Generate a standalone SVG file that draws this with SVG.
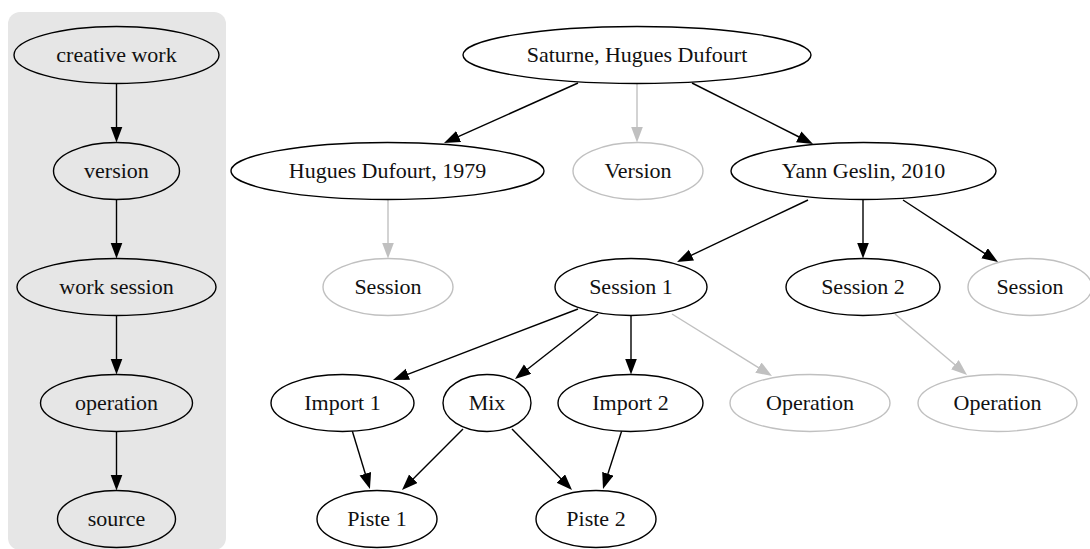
<svg xmlns="http://www.w3.org/2000/svg" width="1090" height="549" viewBox="0 0 1090 549">
  <style>
    .node ellipse { fill: #ffffff; stroke: #000000; stroke-width: 1.4; }
    .node.ghost ellipse { stroke: #c0c0c0; }
    .legend .node ellipse { fill: none; }
    text { font-family: "Liberation Serif", "Times New Roman", serif; font-size: 22px; fill: #111111; text-anchor: middle; }
    .edge { stroke: #000000; stroke-width: 1.4; fill: none; marker-end: url(#arrow); }
    .edge.ghost { stroke: #c0c0c0; marker-end: url(#arrow-gray); }
  </style>
  <defs>
    <marker id="arrow" markerUnits="userSpaceOnUse" markerWidth="17" markerHeight="13" refX="1" refY="6" orient="auto">
      <path d="M0,0 L16,6 L0,12 z" fill="#000000"/>
    </marker>
    <marker id="arrow-gray" markerUnits="userSpaceOnUse" markerWidth="17" markerHeight="13" refX="1" refY="6" orient="auto">
      <path d="M0,0 L16,6 L0,12 z" fill="#c0c0c0"/>
    </marker>
  </defs>

  <rect width="1090" height="549" fill="#ffffff"/>

  <g transform="translate(0,2)">
  <!-- legend cluster -->
  <g id="legend" class="legend">
    <rect x="8" y="10" width="218" height="538" rx="12" ry="12" fill="#e6e6e6"/>
    <g id="connectors-legend">
      <line class="edge" x1="116.5" y1="81.5" x2="116.5" y2="125.5"/>
      <line class="edge" x1="116.5" y1="197.5" x2="116.5" y2="241.5"/>
      <line class="edge" x1="116.5" y1="313.5" x2="116.5" y2="357.5"/>
      <line class="edge" x1="116.5" y1="429.5" x2="116.5" y2="473.5"/>
    </g>
    <g id="lg-creative-work" class="node"><ellipse cx="116.5" cy="53" rx="102.5" ry="28.5"/><text x="116.5" y="60">creative work</text></g>
    <g id="lg-version" class="node"><ellipse cx="116.5" cy="169" rx="63" ry="28.5"/><text x="116.5" y="176">version</text></g>
    <g id="lg-work-session" class="node"><ellipse cx="116.5" cy="285" rx="99.5" ry="28.5"/><text x="116.5" y="292">work session</text></g>
    <g id="lg-operation" class="node"><ellipse cx="116.5" cy="401" rx="76" ry="28.5"/><text x="116.5" y="408">operation</text></g>
    <g id="lg-source" class="node"><ellipse cx="116.5" cy="517" rx="59" ry="28.5"/><text x="116.5" y="524">source</text></g>
  </g>

  <!-- connectors -->
  <g id="connectors">
    <line class="edge" x1="578" y1="81" x2="457.7" y2="134.9"/>
    <line class="edge ghost" x1="637" y1="81" x2="637" y2="125.5"/>
    <line class="edge" x1="692" y1="81" x2="799.6" y2="135.25"/>
    <line class="edge ghost" x1="388" y1="197.5" x2="388" y2="241.5"/>
    <line class="edge" x1="808" y1="198" x2="690.6" y2="253.6"/>
    <line class="edge" x1="863" y1="197.5" x2="863" y2="241.5"/>
    <line class="edge" x1="903" y1="198" x2="985.4" y2="251.8"/>
    <line class="edge" x1="578" y1="307" x2="407" y2="372.6"/>
    <line class="edge" x1="598" y1="312" x2="526.8" y2="367.75"/>
    <line class="edge" x1="631" y1="313.5" x2="631" y2="357.5"/>
    <line class="edge ghost" x1="672" y1="312" x2="759.25" y2="366.1"/>
    <line class="edge ghost" x1="895" y1="312" x2="955.6" y2="363.3"/>
    <line class="edge" x1="352" y1="428" x2="365.6" y2="472.7"/>
    <line class="edge" x1="463" y1="427" x2="412.6" y2="477.4"/>
    <line class="edge" x1="512" y1="427" x2="561.5" y2="477.3"/>
    <line class="edge" x1="622" y1="428" x2="607.6" y2="472.7"/>
  </g>

  <!-- work -->
  <g id="saturne" class="node"><ellipse cx="637" cy="53" rx="174" ry="28.5"/><text x="637" y="60">Saturne, Hugues Dufourt</text></g>

  <!-- versions -->
  <g id="version-1979" class="node"><ellipse cx="387.5" cy="169" rx="156.5" ry="28.5"/><text x="387.5" y="176">Hugues Dufourt, 1979</text></g>
  <g id="version-other" class="node ghost"><ellipse cx="638" cy="169" rx="65" ry="28.5"/><text x="638" y="176">Version</text></g>
  <g id="version-2010" class="node"><ellipse cx="863.5" cy="169" rx="132.5" ry="28.5"/><text x="863.5" y="176">Yann Geslin, 2010</text></g>

  <!-- sessions -->
  <g id="session-1979" class="node ghost"><ellipse cx="388" cy="285" rx="65" ry="28.5"/><text x="388" y="292">Session</text></g>
  <g id="session-1" class="node"><ellipse cx="631" cy="285" rx="76" ry="28.5"/><text x="631" y="292">Session 1</text></g>
  <g id="session-2" class="node"><ellipse cx="863" cy="285" rx="77" ry="28.5"/><text x="863" y="292">Session 2</text></g>
  <g id="session-other" class="node ghost"><ellipse cx="1030" cy="285" rx="62" ry="28.5"/><text x="1030" y="292">Session</text></g>

  <!-- operations -->
  <g id="import-1" class="node"><ellipse cx="342.5" cy="401" rx="71.5" ry="28.5"/><text x="342.5" y="408">Import 1</text></g>
  <g id="mix" class="node"><ellipse cx="487" cy="401" rx="44" ry="28.5"/><text x="487" y="408">Mix</text></g>
  <g id="import-2" class="node"><ellipse cx="630.5" cy="401" rx="72.5" ry="28.5"/><text x="630.5" y="408">Import 2</text></g>
  <g id="operation-s1" class="node ghost"><ellipse cx="810" cy="401" rx="80" ry="28.5"/><text x="810" y="408">Operation</text></g>
  <g id="operation-s2" class="node ghost"><ellipse cx="997.5" cy="401" rx="79.5" ry="28.5"/><text x="997.5" y="408">Operation</text></g>

  <!-- sources -->
  <g id="piste-1" class="node"><ellipse cx="377" cy="517" rx="60" ry="28.5"/><text x="377" y="524">Piste 1</text></g>
  <g id="piste-2" class="node"><ellipse cx="596" cy="517" rx="60" ry="28.5"/><text x="596" y="524">Piste 2</text></g>
  </g>
</svg>
